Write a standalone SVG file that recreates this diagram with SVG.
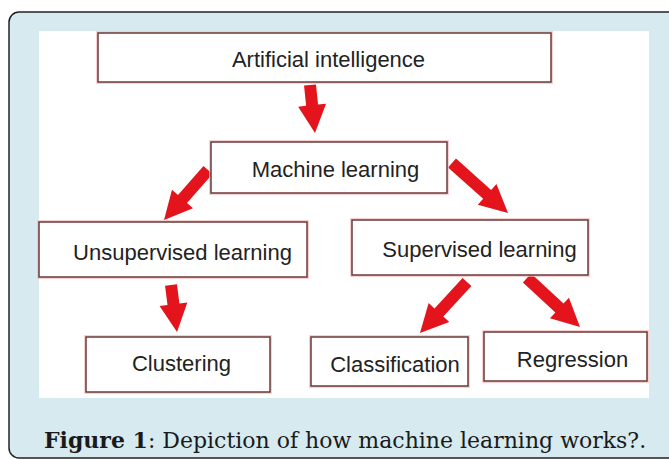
<svg xmlns="http://www.w3.org/2000/svg" width="669" height="459" viewBox="0 0 669 459">
  <style>
    .panel { fill: #d6eaf0; stroke: #222; stroke-width: 1.5; }
    .halo { fill: none; stroke: #f4bcbc; stroke-width: 4; opacity: 0.7; }
    .box { fill: #fff; stroke: #6a3a3a; stroke-width: 1.5; }
    .lbl { font-family: "Liberation Sans", Arial, sans-serif; font-size: 22px; fill: #222; text-anchor: middle; }
    .arrow { fill: #e3141c; }
    .cap { font-family: "DejaVu Serif", "Liberation Serif", serif; font-size: 22px; fill: #1a1a1a; }
  </style>

  <!-- caption panel, open to the right and bottom -->
  <path class="panel" d="M 672,12 H 19 A 10,10 0 0 0 9,22 V 448 A 10,10 0 0 0 19,458 H 672"/>

  <!-- figure area -->
  <rect x="39" y="31" width="610" height="367" fill="#ffffff"/>

  <g id="connectors">
    <!-- each arrow: drawn along +x from its start, then rotated into place -->
    <path class="arrow" transform="translate(310,85) rotate(84.05)" d="M0,-6 H20.3 V-14 L48.3,0 L20.3,14 V6 H0 Z"/>
    <path class="arrow" transform="translate(208,170) rotate(131.35)" d="M0,-6 H38.6 V-14 L66.6,0 L38.6,14 V6 H0 Z"/>
    <path class="arrow" transform="translate(452,163) rotate(41.76)" d="M0,-6 H47.1 V-14 L75.1,0 L47.1,14 V6 H0 Z"/>
    <path class="arrow" transform="translate(171,285) rotate(82.7)" d="M0,-6 H19.4 V-14 L47.4,0 L19.4,14 V6 H0 Z"/>
    <path class="arrow" transform="translate(467,282) rotate(132.66)" d="M0,-6 H41.4 V-14 L69.4,0 L41.4,14 V6 H0 Z"/>
    <path class="arrow" transform="translate(527,278) rotate(42.76)" d="M0,-6 H44.2 V-14 L72.2,0 L44.2,14 V6 H0 Z"/>
  </g>

  <g id="ai">
    <rect class="halo" x="98" y="33" width="453" height="49"/>
    <rect class="box" x="98" y="33" width="453" height="49"/>
    <text class="lbl" x="328.5" y="67">Artificial intelligence</text>
  </g>

  <g id="ml">
    <rect class="halo" x="211" y="142" width="236" height="51"/>
    <rect class="box" x="211" y="142" width="236" height="51"/>
    <text class="lbl" x="335.5" y="177">Machine learning</text>
  </g>

  <g id="unsupervised">
    <rect class="halo" x="39" y="222" width="268" height="55"/>
    <rect class="box" x="39" y="222" width="268" height="55"/>
    <text class="lbl" x="182.5" y="260">Unsupervised learning</text>
  </g>

  <g id="supervised">
    <rect class="halo" x="352" y="220" width="236" height="55"/>
    <rect class="box" x="352" y="220" width="236" height="55"/>
    <text class="lbl" x="479.5" y="257">Supervised learning</text>
  </g>

  <g id="clustering">
    <rect class="halo" x="86" y="337" width="184" height="55"/>
    <rect class="box" x="86" y="337" width="184" height="55"/>
    <text class="lbl" x="181.5" y="371">Clustering</text>
  </g>

  <g id="classification">
    <rect class="halo" x="311" y="337" width="157" height="49"/>
    <rect class="box" x="311" y="337" width="157" height="49"/>
    <text class="lbl" x="395" y="372">Classification</text>
  </g>

  <g id="regression">
    <rect class="halo" x="484" y="332" width="163" height="49"/>
    <rect class="box" x="484" y="332" width="163" height="49"/>
    <text class="lbl" x="572.5" y="367">Regression</text>
  </g>

  <text class="cap" x="44" y="448"><tspan font-weight="bold">Figure 1</tspan>: Depiction of how machine learning works?.</text>
</svg>
